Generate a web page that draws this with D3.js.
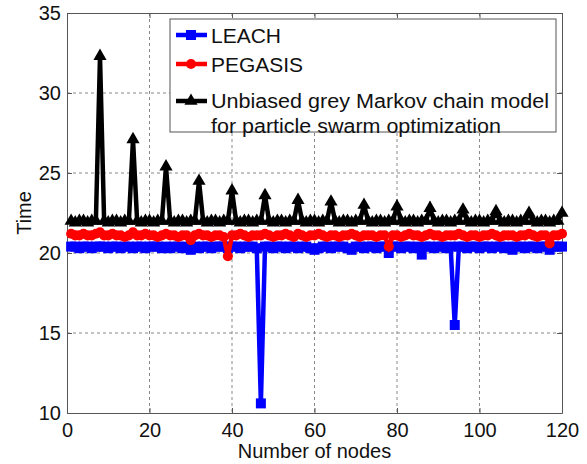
<!DOCTYPE html>
<html>
<head>
<meta charset="utf-8">
<script src="https://cdn.jsdelivr.net/npm/d3@7"></script>
<style>
  body { margin: 0; background: #fff; }
  svg { display: block; font-family: "Liberation Sans", Arial, sans-serif; }
</style>
</head>
<body>
<svg id="chart" width="587" height="464"></svg>
<script>
// x values: number of nodes
const nodes = d3.range(1, 121);

const leach = [
  20.4, 20.4, 20.3, 20.4, 20.4, 20.3, 20.4, 20.4, 20.4, 20.3,
  20.4, 20.4, 20.3, 20.4, 20.4, 20.3, 20.4, 20.4, 20.3, 20.4,
  20.4, 20.4, 20.3, 20.4, 20.3, 20.4, 20.4, 20.3, 20.4, 20.2,
  20.4, 20.3, 20.4, 20.4, 20.3, 20.4, 20.4, 20.4, 20.3, 20.4,
  20.4, 20.3, 20.4, 20.4, 20.4, 20.3, 10.6, 20.4, 20.4, 20.3,
  20.4, 20.4, 20.3, 20.4, 20.4, 20.3, 20.4, 20.4, 20.3, 20.2,
  20.3, 20.4, 20.4, 20.3, 20.4, 20.4, 20.4, 20.3, 20.2, 20.4,
  20.4, 20.3, 20.4, 20.4, 20.3, 20.4, 20.4, 20.0, 20.4, 20.4,
  20.3, 20.4, 20.4, 20.3, 20.4, 19.9, 20.4, 20.4, 20.3, 20.4,
  20.4, 20.3, 20.4, 15.5, 20.4, 20.4, 20.3, 20.4, 20.4, 20.3,
  20.4, 20.4, 20.3, 20.4, 20.4, 20.3, 20.4, 20.2, 20.4, 20.4,
  20.3, 20.4, 20.4, 20.3, 20.4, 20.4, 20.2, 20.4, 20.4, 20.4
];

const pegasis = [
  21.2, 21.1, 21.1, 21.2, 21.1, 21.1, 21.2, 21.3, 21.1, 21.1,
  21.2, 21.1, 21.1, 21.0, 21.1, 21.3, 21.1, 21.1, 21.2, 21.1,
  21.1, 21.0, 21.1, 21.2, 21.1, 21.1, 21.0, 21.1, 21.1, 20.8,
  21.1, 21.2, 21.1, 21.1, 21.0, 21.1, 21.1, 21.0, 19.8, 21.1,
  21.1, 21.2, 21.1, 21.0, 21.1, 21.1, 21.1, 21.2, 21.1, 21.0,
  21.1, 21.1, 21.2, 21.1, 21.0, 21.2, 21.1, 21.0, 21.1, 21.1,
  21.2, 21.1, 21.0, 21.1, 21.1, 21.0, 21.1, 21.1, 21.2, 21.1,
  21.0, 21.1, 21.1, 21.1, 21.0, 21.1, 21.1, 20.4, 21.1, 21.1,
  21.0, 21.1, 21.2, 21.1, 21.1, 21.0, 21.1, 21.2, 21.1, 21.1,
  21.0, 21.1, 21.1, 21.1, 21.2, 21.1, 21.0, 21.1, 21.1, 21.0,
  21.1, 21.1, 21.2, 21.1, 21.0, 21.1, 21.1, 21.1, 21.0, 21.1,
  21.1, 21.2, 21.1, 21.0, 21.1, 21.1, 20.6, 21.1, 21.1, 21.2
];

const markov = [
  22.0, 21.9, 22.0, 22.0, 21.9, 22.0, 22.0, 32.3, 22.0, 21.9,
  22.0, 22.0, 21.9, 22.0, 22.0, 27.1, 22.0, 21.9, 22.0, 22.0,
  21.9, 22.0, 22.0, 25.4, 22.0, 21.9, 22.0, 22.0, 21.9, 22.0,
  22.0, 24.5, 22.0, 21.9, 22.0, 22.0, 21.9, 22.0, 22.0, 23.9,
  22.0, 21.9, 22.0, 22.0, 21.9, 22.0, 22.0, 23.6, 22.0, 21.9,
  22.0, 22.0, 21.9, 22.0, 22.0, 23.3, 22.0, 21.9, 22.0, 22.0,
  21.9, 22.0, 22.0, 23.2, 22.0, 21.9, 22.0, 22.0, 21.9, 22.0,
  22.0, 23.0, 22.0, 21.9, 22.0, 22.0, 21.9, 22.0, 22.0, 22.9,
  22.0, 21.9, 22.0, 22.0, 21.9, 22.0, 22.0, 22.8, 22.0, 21.9,
  22.0, 22.0, 21.9, 22.0, 22.0, 22.7, 22.0, 21.9, 22.0, 22.0,
  21.9, 22.0, 22.0, 22.6, 22.0, 21.9, 22.0, 22.0, 21.9, 22.0,
  22.0, 22.5, 22.0, 21.9, 22.0, 22.0, 21.9, 22.0, 22.0, 22.5
];

const xTicks = [0, 20, 40, 60, 80, 100, 120];
const yTicks = [10, 15, 20, 25, 30, 35];
const legendLabels = ['LEACH', 'PEGASIS', ['Unbiased grey Markov chain model', 'for particle swarm optimization']];
const legendWidths = [70, 92, [338, 290]]; // text widths in the source figure

const svg = d3.select('#chart'),
      margin = {top: 13, right: 25, bottom: 51, left: 67},
      width = +svg.attr('width') - margin.left - margin.right,
      height = +svg.attr('height') - margin.top - margin.bottom;

const x = d3.scaleLinear().domain([0, 120]).range([0, width]);
const y = d3.scaleLinear().domain([10, 35]).range([height, 0]);

const g = svg.append('g').attr('transform', 'translate(' + margin.left + ',' + margin.top + ')');

// grid
g.append('g').selectAll('line').data(xTicks.slice(1, -1)).enter().append('line')
  .attr('x1', d => x(d)).attr('x2', d => x(d)).attr('y1', 0).attr('y2', height)
  .attr('stroke', '#888').attr('stroke-width', 1).attr('stroke-dasharray', '3,3');
g.append('g').selectAll('line').data(yTicks.slice(1, -1)).enter().append('line')
  .attr('y1', d => y(d)).attr('y2', d => y(d)).attr('x1', 0).attr('x2', width)
  .attr('stroke', '#888').attr('stroke-width', 1).attr('stroke-dasharray', '3,3');

function styleAxis(sel, labels) {
  sel.select('.domain').attr('stroke', '#555');
  sel.selectAll('.tick line').attr('stroke', '#555');
  sel.selectAll('.tick text').attr('fill', '#111').style('font-size', '20px');
  if (!labels) sel.selectAll('.tick text').remove();
}

g.append('g').attr('transform', 'translate(0,' + height + ')')
  .call(d3.axisBottom(x).tickValues(xTicks).tickSize(-5).tickPadding(10).tickSizeOuter(0))
  .call(s => styleAxis(s, true));
g.append('g')
  .call(d3.axisTop(x).tickValues(xTicks).tickSize(-5).tickSizeOuter(0))
  .call(s => styleAxis(s, false));
g.append('g')
  .call(d3.axisLeft(y).tickValues(yTicks).tickSize(-5).tickPadding(6).tickSizeOuter(0))
  .call(s => styleAxis(s, true));
g.append('g').attr('transform', 'translate(' + width + ',0)')
  .call(d3.axisRight(y).tickValues(yTicks).tickSize(-5).tickSizeOuter(0))
  .call(s => styleAxis(s, false));

// series
const series = [
  {values: leach, color: '#0000ff', symbol: d3.symbolSquare, size: 100},
  {values: pegasis, color: '#ff0000', symbol: d3.symbolCircle, size: 80},
  {values: markov, color: '#000000', symbol: d3.symbolTriangle, size: 75}
];

const line = d3.line().x((d, i) => x(nodes[i])).y(d => y(d));

series.forEach(s => {
  const sg = g.append('g');
  sg.append('path').datum(s.values)
    .attr('fill', 'none').attr('stroke', s.color).attr('stroke-width', 4.5)
    .attr('stroke-linejoin', 'miter').attr('d', line);
  sg.selectAll('path.m').data(s.values).enter().append('path')
    .attr('class', 'm')
    .attr('transform', (d, i) => 'translate(' + x(nodes[i]) + ',' + y(d) + ')')
    .attr('d', d3.symbol().type(s.symbol).size(s.size))
    .attr('fill', s.color);
});

// axis titles
svg.append('text').attr('x', margin.left + width / 2).attr('y', 458)
  .attr('text-anchor', 'middle').style('font-size', '20px').attr('fill', '#111')
  .text('Number of nodes');
svg.append('text').attr('transform', 'translate(31,' + (margin.top + height / 2) + ') rotate(-90)')
  .attr('text-anchor', 'middle').style('font-size', '20px').attr('fill', '#111')
  .text('Time');

// legend
const lg = svg.append('g');
lg.append('rect').attr('x', 170).attr('y', 19).attr('width', 386).attr('height', 113)
  .attr('fill', '#fff').attr('stroke', '#555').attr('stroke-width', 1);
const rowY = [35, 64, 101];
series.forEach((s, i) => {
  lg.append('line').attr('x1', 176).attr('x2', 207).attr('y1', rowY[i]).attr('y2', rowY[i])
    .attr('stroke', s.color).attr('stroke-width', 4.5);
  lg.append('path').attr('transform', 'translate(191,' + rowY[i] + ')')
    .attr('d', d3.symbol().type(s.symbol).size(s.size)).attr('fill', s.color);
  const lab = legendLabels[i];
  const multi = Array.isArray(lab);
  const lines = multi ? lab : [lab];
  const widths = multi ? legendWidths[i] : [legendWidths[i]];
  lines.forEach((t, j) => {
    lg.append('text').attr('x', 211).attr('y', rowY[i] + 8 + (multi ? j * 25 - 1 : 0))
      .attr('textLength', widths[j]).attr('lengthAdjust', 'spacingAndGlyphs')
      .style('font-size', '20px').attr('fill', '#111').text(t);
  });
});
</script>
</body>
</html>
